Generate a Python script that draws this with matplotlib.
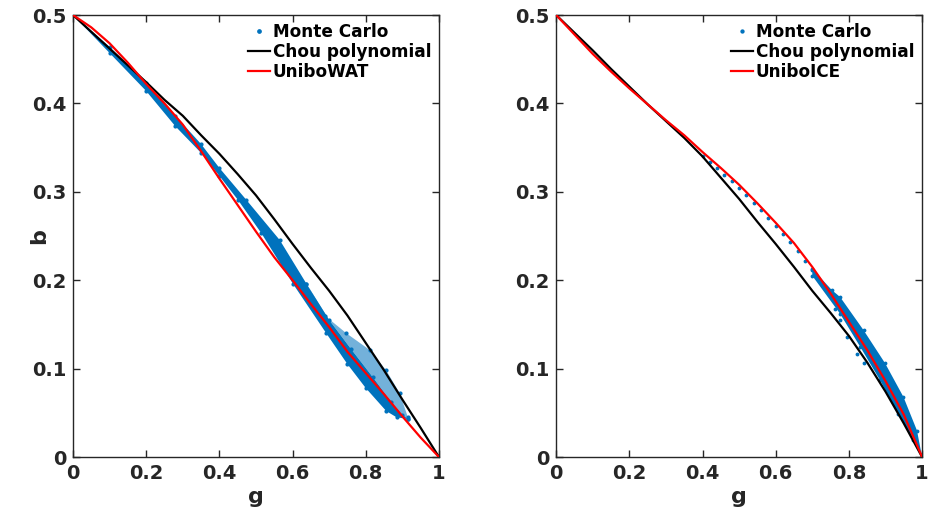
import numpy as np
import matplotlib
matplotlib.use("Agg")
import matplotlib.pyplot as plt

g_grid = [0, 0.05, 0.1, 0.15, 0.2, 0.25, 0.3, 0.35, 0.4, 0.45, 0.5,
          0.55, 0.6, 0.65, 0.7, 0.75, 0.8, 0.85, 0.9, 0.95, 1.0]

# --- left panel: water droplets ---
# Chou polynomial b(g)
wat_chou_b = [0.5, 0.481, 0.462, 0.443, 0.424, 0.404, 0.386, 0.364, 0.343, 0.320, 0.296,
              0.269, 0.241, 0.214, 0.188, 0.160, 0.129, 0.098, 0.065, 0.033, 0]
# UniboWAT fit
wat_fit_b = [0.5, 0.486, 0.468, 0.446, 0.422, 0.400, 0.376, 0.346, 0.315, 0.285, 0.255,
             0.226, 0.200, 0.173, 0.147, 0.119, 0.095, 0.071, 0.046, 0.022, 0]

# Monte Carlo cloud: edges of the dense band and of the looping traces
wat_mc_top_g = [0, 0.1, 0.2, 0.28, 0.35, 0.40, 0.474, 0.565, 0.638, 0.70, 0.76, 0.82, 0.87, 0.90, 0.915]
wat_mc_top_b = [0.5, 0.464, 0.423, 0.386, 0.354, 0.327, 0.2907, 0.2454, 0.196, 0.155, 0.122, 0.090, 0.062, 0.048, 0.043]
wat_mc_bot_g = [0, 0.1, 0.2, 0.28, 0.35, 0.40, 0.451, 0.515, 0.601, 0.692, 0.75, 0.80, 0.856, 0.884, 0.915]
wat_mc_bot_b = [0.5, 0.457, 0.414, 0.374, 0.344, 0.318, 0.2907, 0.253, 0.196, 0.140, 0.105, 0.078, 0.052, 0.045, 0.043]
wat_mc_loop_g = [0.638, 0.688, 0.747, 0.811, 0.856, 0.893, 0.915]
wat_mc_loop_b = [0.196, 0.160, 0.140, 0.121, 0.098, 0.072, 0.045]

# --- right panel: ice crystals ---
ice_chou_b = [0.5, 0.480, 0.460, 0.439, 0.419, 0.399, 0.380, 0.361, 0.340, 0.316, 0.292,
              0.266, 0.241, 0.215, 0.188, 0.163, 0.137, 0.107, 0.074, 0.038, 0]
ice_fit_b = [0.5, 0.478, 0.456, 0.436, 0.417, 0.399, 0.381, 0.364, 0.345, 0.327, 0.308,
             0.287, 0.265, 0.242, 0.215, 0.185, 0.153, 0.121, 0.086, 0.048, 0]

ice_mc_trace_g = [0.40, 0.42, 0.44, 0.46, 0.48, 0.50, 0.52, 0.54, 0.56, 0.58,
                  0.60, 0.62, 0.64, 0.66, 0.68, 0.70]
ice_mc_trace_b = [0.341, 0.334, 0.327, 0.319, 0.312, 0.304, 0.296, 0.287, 0.279, 0.270,
                  0.261, 0.252, 0.243, 0.233, 0.222, 0.211]
ice_mc_top_g = [0.70, 0.753, 0.776, 0.840, 0.899, 0.949, 0.986, 1.0]
ice_mc_top_b = [0.213, 0.189, 0.181, 0.1435, 0.106, 0.068, 0.030, 0]
ice_mc_bot_g = [0.70, 0.776, 0.831, 0.885, 0.935, 0.976, 1.0]
ice_mc_bot_b = [0.205, 0.162, 0.1246, 0.087, 0.049, 0.019, 0]
ice_mc_scatter_g = [0.762, 0.776, 0.794, 0.822, 0.840]
ice_mc_scatter_b = [0.168, 0.155, 0.136, 0.117, 0.106]

x_ticks = [0, 0.2, 0.4, 0.6, 0.8, 1]
x_tick_labels = ["0", "0.2", "0.4", "0.6", "0.8", "1"]
y_ticks = [0, 0.1, 0.2, 0.3, 0.4, 0.5]
y_tick_labels = ["0", "0.1", "0.2", "0.3", "0.4", "0.5"]

MC_BLUE = "#0072BD"
AX_GRAY = "#262626"

plt.rcParams["font.family"] = ["DejaVu Sans"]
plt.rcParams["font.weight"] = "bold"


def band(ax, g_top, b_top, g_bot, b_bot, alpha=1.0):
    # closed polygon between two edges of the cloud
    xs = np.concatenate([g_top, g_bot[::-1]])
    ys = np.concatenate([b_top, b_bot[::-1]])
    ax.fill(xs, ys, color=MC_BLUE, lw=0, alpha=alpha, zorder=1)


def style_axes(ax):
    ax.set_xlim(0, 1)
    ax.set_ylim(0, 0.5)
    ax.set_xticks(x_ticks)
    ax.set_xticklabels(x_tick_labels)
    ax.set_yticks(y_ticks)
    ax.set_yticklabels(y_tick_labels)
    ax.tick_params(direction="in", length=5, width=1, colors=AX_GRAY,
                   labelsize=14, top=True, right=True, pad=5)
    for lab in ax.get_xticklabels() + ax.get_yticklabels():
        lab.set_fontweight("bold")
    for sp in ax.spines.values():
        sp.set_color(AX_GRAY)
        sp.set_linewidth(1)
    ax.set_xlabel("g", fontsize=16, fontweight="bold", color=AX_GRAY)
    ax.xaxis.set_label_coords(0.5, -0.068)


fig = plt.figure(figsize=(9.3, 5.16), dpi=100)
ax1 = fig.add_axes([0.0785, 0.1143, 0.3935, 0.8566])
ax2 = fig.add_axes([0.598, 0.1143, 0.3935, 0.8566])

# left: water
band(ax1, np.array(wat_mc_top_g), np.array(wat_mc_top_b),
     np.array(wat_mc_bot_g), np.array(wat_mc_bot_b))
band(ax1, np.array(wat_mc_loop_g), np.array(wat_mc_loop_b),
     np.array(wat_mc_top_g[8:]), np.array(wat_mc_top_b[8:]), alpha=0.55)
ax1.plot(wat_mc_top_g + wat_mc_bot_g + wat_mc_loop_g,
         wat_mc_top_b + wat_mc_bot_b + wat_mc_loop_b,
         ".", color=MC_BLUE, ms=4, ls="none", label="Monte Carlo", zorder=2)
ax1.plot(g_grid, wat_chou_b, color="black", lw=1.6, label="Chou polynomial", zorder=3)
ax1.plot(g_grid, wat_fit_b, color="red", lw=1.6, label="UniboWAT", zorder=4)
style_axes(ax1)
ax1.set_ylabel("b", fontsize=16, fontweight="bold", color=AX_GRAY)
ax1.yaxis.set_label_coords(-0.065, 0.5)

# right: ice
band(ax2, np.array(ice_mc_top_g), np.array(ice_mc_top_b),
     np.array(ice_mc_bot_g), np.array(ice_mc_bot_b))
ax2.plot(ice_mc_trace_g + ice_mc_top_g + ice_mc_bot_g + ice_mc_scatter_g,
         ice_mc_trace_b + ice_mc_top_b + ice_mc_bot_b + ice_mc_scatter_b,
         ".", color=MC_BLUE, ms=3.5, ls="none", label="Monte Carlo", zorder=2)
ax2.plot(g_grid, ice_chou_b, color="black", lw=1.6, label="Chou polynomial", zorder=3)
ax2.plot(g_grid, ice_fit_b, color="red", lw=1.6, label="UniboICE", zorder=4)
style_axes(ax2)

for ax in (ax1, ax2):
    leg = ax.legend(loc="upper right", frameon=False, fontsize=12.2, numpoints=1,
                    handlelength=1.3, handletextpad=0.15, labelspacing=0.14,
                    borderaxespad=0.0, borderpad=0.45, markerscale=1.2)
    for t in leg.get_texts():
        t.set_fontweight("bold")

fig.savefig("out.png", dpi=100)
